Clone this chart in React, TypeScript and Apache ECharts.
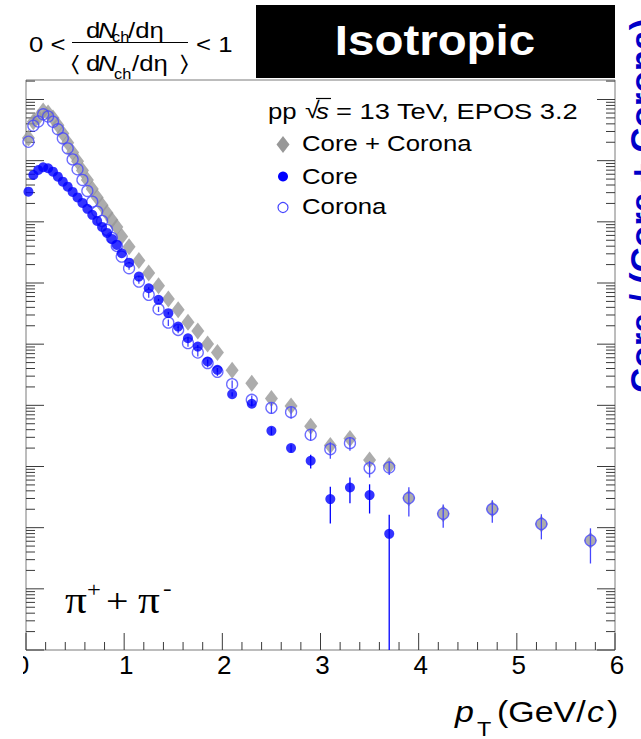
import React, { useEffect, useRef } from "react";
import * as echarts from "echarts";

// ---------- data ----------
const corePt = [0.025, 0.075, 0.125, 0.175, 0.225, 0.275, 0.325, 0.375, 0.425, 0.475, 0.525, 0.575, 0.625, 0.675, 0.725, 0.775, 0.825, 0.875, 0.925, 0.975, 1.05, 1.15, 1.25, 1.35, 1.45, 1.55, 1.65, 1.75, 1.85, 1.95, 2.1, 2.3, 2.5, 2.7, 2.9, 3.1, 3.3, 3.5, 3.7];
const allPt = [...corePt, 3.9, 4.25, 4.75, 5.25, 5.75];

const coreValues = [0.311, 0.584, 0.705, 0.78, 0.751, 0.661, 0.548, 0.454, 0.376, 0.308, 0.251, 0.204, 0.163, 0.13, 0.1035, 0.0826, 0.0659, 0.0526, 0.042, 0.0307, 0.0215, 0.01273, 0.00822, 0.0053, 0.00321, 0.00194, 0.00125, 0.000914, 0.00052, 0.00038, 0.000152, 0.000106, 3.83e-5, 2.0e-5, 1.24e-5, 2.93e-6, 4.54e-6, 3.41e-6, 7.94e-7];
const coreRelErr = [0, 0, 0, 0, 0, 0, 0, 0, 0, 0, 0, 0, 0, 0, 0, 0, 0, 0, 0, 0, 0.03, 0.03, 0.04, 0.04, 0.05, 0.05, 0.06, 0.06, 0.07, 0.07, 0.08, 0.1, 0.15, 0.15, 0.25, 0.6, 0.45, 0.5, 1.05];

const coronaValues = [2.04, 3.73, 4.37, 5.73, 5.28, 4.33, 3.26, 2.32, 1.59, 1.05, 0.723, 0.484, 0.32, 0.214, 0.147, 0.1035, 0.0738, 0.0546, 0.0404, 0.027, 0.01745, 0.01054, 0.0064, 0.00373, 0.00225, 0.00171, 0.00104, 0.00073, 0.00049, 0.000353, 0.000222, 0.000123, 9.1e-5, 7.74e-5, 3.3e-5, 1.92e-5, 2.41e-5, 9.42e-6, 9.64e-6, 3.05e-6, 1.69e-6, 2.01e-6, 1.15e-6, 6.18e-7];
const coronaRelErr = [0, 0, 0, 0, 0, 0, 0, 0, 0, 0, 0, 0, 0, 0, 0, 0, 0, 0, 0, 0, 0.06, 0.08, 0.1, 0.1, 0.12, 0.12, 0.13, 0.14, 0.15, 0.15, 0.15, 0.18, 0.2, 0.22, 0.2, 0.3, 0.25, 0.3, 0.25, 0.5, 0.41, 0.4, 0.44, 0.58];

const sumValues = [2.35, 4.31, 5.08, 6.51, 6.03, 4.99, 3.81, 2.77, 1.97, 1.36, 0.974, 0.688, 0.483, 0.344, 0.251, 0.186, 0.14, 0.107, 0.0824, 0.0577, 0.039, 0.0233, 0.01462, 0.00903, 0.00546, 0.00365, 0.00229, 0.00164, 0.00101, 0.000733, 0.000374, 0.000229, 0.000129, 9.74e-5, 4.54e-5, 2.21e-5, 2.86e-5, 1.28e-5, 1.04e-5, 3.05e-6, 1.69e-6, 2.01e-6, 1.15e-6, 6.18e-7];

const xTickLabels = ["0", "1", "2", "3", "4", "5", "6"];
const seriesNames = ["Core + Corona", "Core", "Corona"];

// ---------- axis ranges ----------
const X_MIN = 0;
const X_MAX = 6;
const Y_MIN = 1e-8;
const Y_MAX = 20.84;

const FONT = '"Liberation Sans", Arial, Helvetica, sans-serif';
const SERIF = '"Liberation Serif", "Times New Roman", serif';
const GRAY = "#979797";
const BLUE = "#0000ff";
const OPEN_BLUE = "#4646ff";
const SX = 1.17; // horizontal stretch of the reference text

function txt(text: string, x: number, y: number, size: number, extra: any = {}, elExtra: any = {}) {
  return {
    type: "text",
    x,
    y,
    scaleX: elExtra.scaleX ?? SX,
    rotation: elExtra.rotation ?? 0,
    z: 100,
    style: {
      text,
      fontSize: size,
      fontFamily: extra.fontFamily ?? FONT,
      fontStyle: extra.fontStyle ?? "normal",
      fontWeight: extra.fontWeight ?? "normal",
      fill: extra.fill ?? "#000",
      align: extra.align ?? "left",
      textAlign: extra.align ?? "left",
      verticalAlign: "middle",
      textVerticalAlign: "middle",
    },
  };
}

function buildTicks() {
  const out: number[][] = [];
  for (let v = 0; v <= 6.0001; v += 0.2) {
    const r = Math.round(v * 10) / 10;
    const major = Math.abs(r - Math.round(r)) < 1e-6;
    out.push([r, Y_MIN, major ? 1 : 0]);
  }
  for (let d = -8; d <= 1; d++) {
    for (let k = 1; k <= 9; k++) {
      const v = k * Math.pow(10, d);
      if (v > Y_MAX) continue;
      out.push([X_MIN, v, k === 1 ? 3 : 2]);
    }
  }
  return out;
}

function errData(pts: number[], vals: number[], rel: number[]) {
  const out: number[][] = [];
  pts.forEach((p, i) => {
    if (rel[i] > 0) {
      const lo = Math.max(vals[i] * (1 - rel[i]), Y_MIN);
      out.push([p, lo, vals[i] * (1 + rel[i])]);
    }
  });
  return out;
}

export default function App() {
  const ref = useRef<HTMLDivElement>(null);
  useEffect(() => {
    if (!ref.current) return;
    const chart = echarts.init(ref.current, null, { renderer: "svg" });

    const errRender = (color: string) => (params: any, api: any) => {
      const p1 = api.coord([api.value(0), api.value(1)]);
      const p2 = api.coord([api.value(0), api.value(2)]);
      return {
        type: "line",
        shape: { x1: p1[0], y1: p1[1], x2: p2[0], y2: p2[1] },
        style: { stroke: color, lineWidth: 1.3 },
      };
    };

    const option: any = {
      animation: false,
      backgroundColor: "#fff",
      grid: { left: 26, top: 80, width: 589, height: 570, show: true, borderColor: "#7a7a7a", borderWidth: 1, backgroundColor: "transparent" },
      xAxis: {
        type: "value",
        min: X_MIN,
        max: X_MAX,
        interval: 1,
        axisLine: { show: false },
        axisTick: { show: false },
        splitLine: { show: false },
        axisLabel: {
          fontSize: 26,
          fontFamily: FONT,
          color: "#000",
          margin: 2,
          formatter: (v: number) => (v === 0 ? "{z|" + xTickLabels[0] + "}" : "{n|" + xTickLabels[Math.round(v)] + "}"),
          rich: {
            z: { fontSize: 26, fontFamily: FONT, color: "#000", padding: [0, 8, 0, 0] },
            n: { fontSize: 26, fontFamily: FONT, color: "#000", padding: [0, 0, 0, 4] },
          },
        },
      },
      yAxis: {
        type: "log",
        logBase: 10,
        min: Y_MIN,
        max: Y_MAX,
        axisLine: { show: false },
        axisTick: { show: false },
        axisLabel: { show: false },
        splitLine: { show: false },
      },
      series: [
        {
          type: "custom",
          name: "ticks",
          silent: true,
          data: buildTicks(),
          encode: { x: 0, y: 1 },
          renderItem: (params: any, api: any) => {
            const kind = api.value(2);
            if (kind <= 1) {
              const p = api.coord([api.value(0), Y_MIN]);
              const len = kind === 1 ? 17 : 8;
              return { type: "line", shape: { x1: p[0], y1: p[1], x2: p[0], y2: p[1] - len }, style: { stroke: "#3a3a3a", lineWidth: 1 } };
            }
            const pl = api.coord([X_MIN, api.value(1)]);
            const pr = api.coord([X_MAX, api.value(1)]);
            const len = kind === 3 ? 18 : 9;
            return {
              type: "group",
              children: [
                { type: "line", shape: { x1: pl[0], y1: pl[1], x2: pl[0] + len, y2: pl[1] }, style: { stroke: "#3a3a3a", lineWidth: 1 } },
                { type: "line", shape: { x1: pr[0], y1: pr[1], x2: pr[0] - len, y2: pr[1] }, style: { stroke: "#3a3a3a", lineWidth: 1 } },
              ],
            };
          },
          z: 1,
        },
        {
          type: "scatter",
          name: seriesNames[0],
          data: allPt.map((p, i) => [p, sumValues[i]]),
          symbol: "diamond",
          symbolSize: [13, 17],
          itemStyle: { color: GRAY },
          z: 2,
        },
        {
          type: "custom",
          name: "coronaErr",
          data: errData(allPt, coronaValues, coronaRelErr),
          encode: { x: 0, y: [1, 2] },
          renderItem: errRender(OPEN_BLUE),
          z: 3,
        },
        {
          type: "scatter",
          name: seriesNames[2],
          data: allPt.map((p, i) => [p, coronaValues[i]]),
          symbol: "circle",
          symbolSize: 11,
          itemStyle: { color: "rgba(0,0,0,0)", borderColor: OPEN_BLUE, borderWidth: 1.3 },
          z: 4,
        },
        {
          type: "custom",
          name: "coreErr",
          data: errData(corePt, coreValues, coreRelErr),
          encode: { x: 0, y: [1, 2] },
          renderItem: errRender(BLUE),
          z: 5,
        },
        {
          type: "scatter",
          name: seriesNames[1],
          data: corePt.map((p, i) => [p, coreValues[i]]),
          symbol: "circle",
          symbolSize: 10,
          itemStyle: { color: BLUE },
          z: 6,
        },
      ],
      graphic: [
        // cover the left part of the "0" label (cropped in the reference)
        { type: "rect", shape: { x: 0, y: 651, width: 23, height: 45 }, style: { fill: "#fff" }, z: 200 },
        // title box
        { type: "rect", shape: { x: 256, y: 5, width: 359, height: 73 }, style: { fill: "#000" }, z: 90 },
        txt("Isotropic", 435, 40, 42, { fontWeight: "bold", fill: "#fff", align: "center" }, { scaleX: 1.13 }),
        // multiplicity class
        txt("0 <", 29, 44.5, 22),
        txt("d", 86, 30.5, 22),
        txt("N", 98, 30.5, 22, { fontStyle: "italic" }),
        txt("ch", 112, 36.5, 14),
        txt("/d\u03b7", 128, 30.5, 22),
        { type: "line", shape: { x1: 72, y1: 42.5, x2: 188, y2: 42.5 }, style: { stroke: "#000", lineWidth: 1.2 }, z: 100 },
        txt("\u2329", 71, 63, 22),
        txt("d", 86, 63.5, 22),
        txt("N", 98, 63.5, 22, { fontStyle: "italic" }),
        txt("ch", 114, 73.5, 14),
        txt("/d\u03b7", 132, 63.5, 22),
        txt("\u232a", 180, 63, 22),
        txt("< 1", 196, 44.5, 22),
        // legend header
        txt("pp", 268, 111, 22),
        txt("\u221a", 305, 110, 23),
        { type: "line", shape: { x1: 316, y1: 98.5, x2: 331, y2: 98.5 }, style: { stroke: "#000", lineWidth: 1.2 }, z: 100 },
        txt("s", 316, 111, 22, { fontStyle: "italic" }),
        txt("= 13 TeV, EPOS 3.2", 336, 111, 22, {}, { scaleX: 1.24 }),
        // legend entries
        { type: "polygon", shape: { points: [[283, 136], [289.5, 144.5], [283, 153], [276.5, 144.5]] }, style: { fill: GRAY }, z: 100 },
        txt(seriesNames[0], 302, 143.5, 22),
        { type: "circle", shape: { cx: 283, cy: 176.5, r: 5 }, style: { fill: BLUE }, z: 100 },
        txt(seriesNames[1], 302, 176, 22),
        { type: "circle", shape: { cx: 283, cy: 207.5, r: 5 }, style: { fill: "none", stroke: OPEN_BLUE, lineWidth: 1.2 }, z: 100 },
        txt(seriesNames[2], 302, 206, 22),
        // particle label
        txt("\u03c0", 65, 601, 37, { fontFamily: SERIF }),
        txt("+", 87, 590, 21, { fontFamily: SERIF }),
        txt("+", 106, 601, 34, { fontFamily: SERIF }),
        txt("\u03c0", 138, 601, 37, { fontFamily: SERIF }),
        txt("-", 163, 588, 22, { fontFamily: SERIF }),
        // x axis title
        txt("p", 455, 712, 29, { fontStyle: "italic" }),
        txt("T", 477, 729, 20),
        txt("(GeV/", 497, 712, 29),
        txt("c", 587, 712, 29, { fontStyle: "italic" }),
        txt(")", 607, 712, 29),
        // cropped blue label on the right edge
        txt("Core / (Core + Corona)", 642, 393, 35, { fontWeight: "bold", fill: "#0000c8" }, { scaleX: 1, rotation: Math.PI / 2 }),
      ],
    };
    chart.setOption(option);
    return () => chart.dispose();
  }, []);
  return <div ref={ref} style={{ position: "absolute", left: 0, top: 0, width: 641, height: 739 }} />;
}
